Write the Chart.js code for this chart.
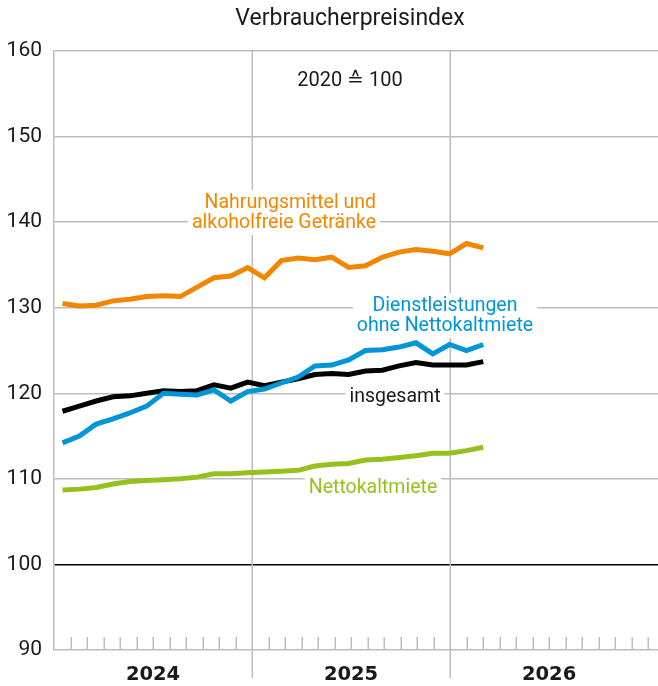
<!DOCTYPE html>
<html>
<head>
<meta charset="utf-8">
<script src="https://cdn.jsdelivr.net/npm/chart.js@4.4.1/dist/chart.umd.min.js"></script>
<style>
  html, body { margin: 0; padding: 0; background: #fff; }
  #wrap { width: 658px; height: 686px; position: relative; }
</style>
</head>
<body>
<div id="wrap"><canvas id="cpi"></canvas></div>
<script>
// Monthly values, Jan 2024 - Feb 2026 (2020 = 100)
const months = [
  '2024-01', '2024-02', '2024-03', '2024-04', '2024-05', '2024-06',
  '2024-07', '2024-08', '2024-09', '2024-10', '2024-11', '2024-12',
  '2025-01', '2025-02', '2025-03', '2025-04', '2025-05', '2025-06',
  '2025-07', '2025-08', '2025-09', '2025-10', '2025-11', '2025-12',
  '2026-01', '2026-02'
];
const nahrung = [130.5, 130.2, 130.3, 130.8, 131.0, 131.3, 131.4, 131.3, 132.4, 133.5, 133.7, 134.7,
                 133.5, 135.5, 135.8, 135.6, 135.9, 134.7, 134.9, 135.9, 136.5, 136.8, 136.6, 136.3,
                 137.5, 137.0];
const dienst = [114.2, 115.0, 116.4, 117.0, 117.7, 118.5, 120.0, 119.9, 119.8, 120.4, 119.1, 120.2,
                120.5, 121.2, 121.9, 123.2, 123.3, 123.9, 125.0, 125.1, 125.4, 125.9, 124.6, 125.7,
                125.0, 125.7];
const insgesamt = [117.9, 118.5, 119.1, 119.6, 119.7, 120.0, 120.3, 120.2, 120.3, 121.0, 120.6, 121.3,
                   120.9, 121.3, 121.7, 122.2, 122.3, 122.2, 122.6, 122.7, 123.2, 123.6, 123.3, 123.3,
                   123.3, 123.7];
const netto = [108.7, 108.8, 109.0, 109.4, 109.7, 109.8, 109.9, 110.0, 110.2, 110.6, 110.6, 110.7,
               110.8, 110.9, 111.0, 111.5, 111.7, 111.8, 112.2, 112.3, 112.5, 112.7, 113.0, 113.0,
               113.3, 113.7];
const yTicks = [90, 100, 110, 120, 130, 140, 150, 160];
const years = ['2024', '2025', '2026'];

const ORANGE = '#f18700';
const BLUE = '#0096d6';
const GREEN = '#95c11f';
const GRID = '#bdbdbd';
const TEXT = '#1a1a1a';

const series = (vals) => vals.map((v, i) => ({ x: i, y: v }));

const seriesLabels = [
  { lines: ['Nahrungsmittel und', 'alkoholfreie Getränke'], color: ORANGE, align: 'right', x: 376, y: [208, 228] },
  { lines: ['Dienstleistungen', 'ohne Nettokaltmiete'], color: BLUE, align: 'center', x: 445, y: [311, 331] },
  { lines: ['insgesamt'], color: TEXT, align: 'center', x: 395, y: [402] },
  { lines: ['Nettokaltmiete'], color: GREEN, align: 'center', x: 373, y: [493] }
];

const decor = {
  id: 'decor',
  beforeDatasetsDraw(chart) {
    const { ctx, chartArea: a } = chart;
    const xm = chart.scales.xm;
    ctx.save();

    // year separators, reaching below the axis
    ctx.strokeStyle = GRID;
    ctx.lineWidth = 1.5;
    [12, 24].forEach(m => {
      const px = Math.round(xm.getPixelForValue(m)) + 0.25;
      ctx.beginPath();
      ctx.moveTo(px, a.top);
      ctx.lineTo(px, a.bottom + 28);
      ctx.stroke();
    });
    // month ticks
    for (let m = 1; m <= 36; m++) {
      if (m % 12 === 0 && m < 36) continue;
      const px = Math.round(xm.getPixelForValue(m)) + 0.25;
      ctx.beginPath();
      ctx.moveTo(px, a.bottom - 13);
      ctx.lineTo(px, a.bottom);
      ctx.stroke();
    }

    // series labels on white boxes
    ctx.font = '19.5px Roboto';
    ctx.textBaseline = 'alphabetic';
    seriesLabels.forEach(l => {
      const w = Math.max(...l.lines.map(t => ctx.measureText(t).width));
      let left = l.align === 'right' ? l.x - w : l.align === 'center' ? l.x - w / 2 : l.x;
      const top = l.y[0] - 14 - 4;
      const bottom = l.y[l.y.length - 1] + 5 + 2;
      ctx.fillStyle = '#fff';
      ctx.fillRect(left - 4, top, w + 8, bottom - top);
      ctx.fillStyle = l.color;
      ctx.textAlign = l.align;
      l.lines.forEach((t, i) => ctx.fillText(t, l.x, l.y[i]));
    });

    // base note
    ctx.fillStyle = TEXT;
    ctx.textAlign = 'center';
    ctx.font = '20px Roboto';
    ctx.fillText('2020 \u2259 100', 350, 86);

    // title
    ctx.font = '23px Roboto';
    ctx.fillText('Verbraucherpreisindex', 350, 25);

    // year labels
    ctx.font = 'bold 19.5px "DejaVu Sans"';
    years.forEach((y, i) => {
      ctx.fillText(y, xm.getPixelForValue(i * 12 + 6), 680);
    });
    ctx.restore();
  }
};

new Chart(document.getElementById('cpi'), {
  type: 'line',
  data: {
    labels: months,
    datasets: [
      { label: 'Nahrungsmittel und alkoholfreie Getränke', data: series(nahrung), borderColor: ORANGE },
      { label: 'Dienstleistungen ohne Nettokaltmiete', data: series(dienst), borderColor: BLUE },
      { label: 'insgesamt', data: series(insgesamt), borderColor: '#000' },
      { label: 'Nettokaltmiete', data: series(netto), borderColor: GREEN }
    ].map(d => Object.assign(d, { borderWidth: 5, pointRadius: 0, tension: 0, fill: false }))
  },
  options: {
    responsive: true,
    maintainAspectRatio: false,
    animation: false,
    events: [],
    layout: { padding: { top: 51, bottom: 36, left: 0, right: 0 } },
    plugins: { legend: { display: false }, tooltip: { enabled: false } },
    scales: {
      x: { type: 'linear', min: -0.505, max: 35.38, display: false },
      xm: { type: 'linear', axis: 'x', position: 'bottom', min: 0, max: 36.6, display: false },
      y: {
        min: 90,
        max: 160,
        afterFit: s => { s.width = 54; },
        afterBuildTicks: s => { s.ticks = yTicks.map(v => ({ value: v })); },
        ticks: { font: { family: 'Roboto', size: 21 }, color: TEXT, padding: 12 },
        grid: {
          drawTicks: false,
          lineWidth: 1.5,
          color: c => (c.tick && c.tick.value === 100 ? '#000' : GRID)
        },
        border: { display: true, color: GRID, width: 1.5 }
      }
    }
  },
  plugins: [decor]
});
</script>
</body>
</html>
